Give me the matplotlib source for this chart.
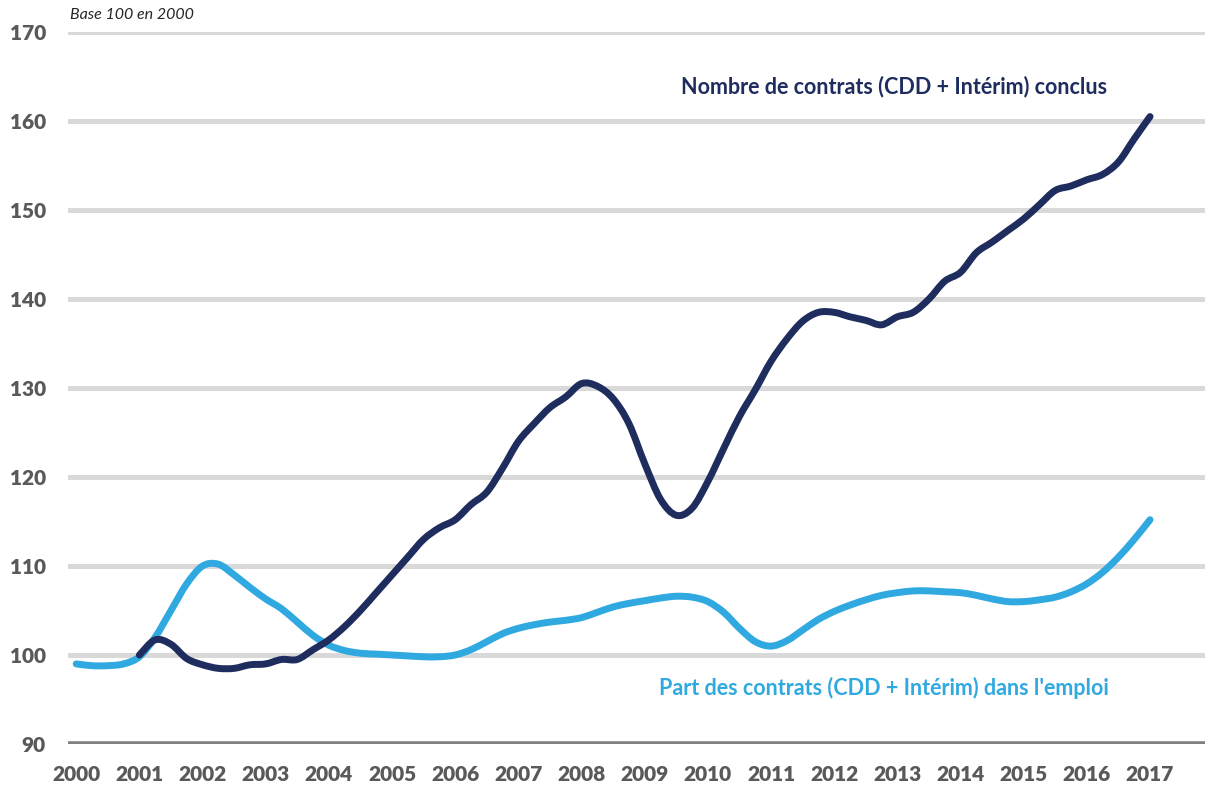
import numpy as np
import matplotlib.pyplot as plt
from matplotlib.path import Path
from matplotlib.patches import PathPatch

# quarterly values, base 100 in 2000
contrats_x = np.arange(2001.0, 2017.01, 0.25)
contrats = [100.0, 101.7, 101.2, 99.6, 98.9, 98.5, 98.5, 98.9,
            99.0, 99.5, 99.5, 100.6, 101.7, 103.2, 105.0, 107.0,
            109.0, 111.0, 113.0, 114.3, 115.2, 116.9, 118.3, 121.0,
            124.0, 126.0, 127.8, 129.0, 130.5, 130.2, 128.8, 126.0,
            121.5, 117.5, 115.7, 116.5, 119.5, 123.2, 126.8, 129.8,
            133.0, 135.5, 137.5, 138.5, 138.5, 138.0, 137.6, 137.1,
            138.0, 138.5, 140.0, 142.0, 143.0, 145.2, 146.4, 147.7,
            149.0, 150.6, 152.2, 152.7, 153.4, 154.0, 155.4, 158.0,
            160.5]

part_x = np.arange(2000.0, 2017.01, 0.25)
part = [99.0, 98.8, 98.8, 99.0, 99.8, 102.0, 105.0, 108.0,
        110.0, 110.2, 109.0, 107.6, 106.3, 105.2, 103.7, 102.2,
        101.1, 100.5, 100.2, 100.1, 100.0, 99.9, 99.8, 99.8,
        100.0, 100.6, 101.5, 102.4, 103.0, 103.4, 103.7, 103.9,
        104.2, 104.8, 105.4, 105.8, 106.1, 106.4, 106.6, 106.5,
        106.0, 104.8, 103.0, 101.5, 101.0, 101.6, 102.8, 104.0,
        104.9, 105.6, 106.2, 106.7, 107.0, 107.2, 107.2, 107.1,
        107.0, 106.7, 106.3, 106.0, 106.0, 106.2, 106.5, 107.1,
        108.0, 109.3, 111.0, 113.0, 115.2]

years = list(range(2000, 2018))
yticks = list(range(90, 171, 10))

NAVY = '#1f2c5e'
BLUE = '#2fa9df'
GREY = '#595959'


def smooth_line(ax, xs, ys, **kw):
    # Excel-like smoothed line: cubic bezier segments through the data points
    pts = np.column_stack([xs, ys])
    verts = [pts[0]]
    codes = [Path.MOVETO]
    n = len(pts)
    for i in range(n - 1):
        p0 = pts[max(i - 1, 0)]
        p1 = pts[i]
        p2 = pts[i + 1]
        p3 = pts[min(i + 2, n - 1)]
        verts += [p1 + (p2 - p0) / 6, p2 - (p3 - p1) / 6, p2]
        codes += [Path.CURVE4] * 3
    patch = PathPatch(Path(verts, codes), fill=False, joinstyle='round',
                      capstyle='round', **kw)
    ax.add_patch(patch)


plt.rcParams['font.family'] = ['Lato', 'DejaVu Sans']

fig = plt.figure(figsize=(12.08, 7.89), dpi=100)
ax = fig.add_axes([68 / 1208, 1 - 744 / 789, (1205 - 68) / 1208, (744 - 32) / 789])

for y in yticks[1:]:
    ax.axhline(y, color='#d9d9d9', lw=3.6, zorder=1)
ax.axhline(90, color='#808080', lw=4.0, zorder=1)

smooth_line(ax, part_x, part, edgecolor=BLUE, lw=5.0, zorder=3)
smooth_line(ax, contrats_x, contrats, edgecolor=NAVY, lw=5.0, zorder=4)

ax.set_xlim(1999.87, 2017.87)
ax.set_ylim(90, 170)
ax.set_xticks(years)
ax.set_xticklabels([str(y) for y in years])
ax.set_yticks(yticks)
for s in ax.spines.values():
    s.set_visible(False)
ax.tick_params(length=0, labelsize=15, labelcolor=GREY)
ax.tick_params(axis='y', pad=16)
ax.tick_params(axis='x', pad=15)
for lab in ax.get_xticklabels() + ax.get_yticklabels():
    lab.set_fontweight('heavy')

ax.text(2012.95, 163.9, 'Nombre de contrats (CDD + Intérim) conclus',
        color=NAVY, fontsize=15.5, fontweight='bold', ha='center', va='center')
ax.text(2012.79, 96.3, "Part des contrats (CDD + Intérim) dans l'emploi",
        color=BLUE, fontsize=15.5, fontweight='bold', ha='center', va='center')
fig.text(70 / 1208, 1 - 15 / 789, 'Base 100 en 2000', fontsize=11.5,
         fontstyle='italic', color='#262626', ha='left', va='center')

fig.savefig('out.png', dpi=100)
